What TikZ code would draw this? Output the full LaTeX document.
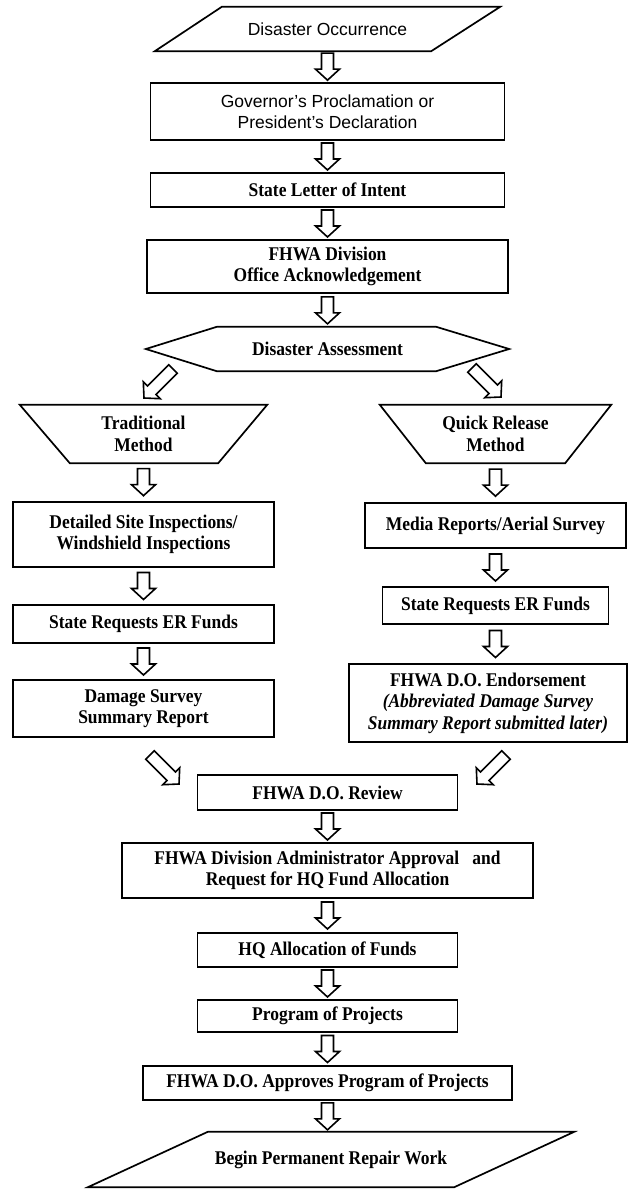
\documentclass[tikz,border=0pt]{standalone}
\usepackage{fontspec}
\setmainfont{Liberation Serif}[FakeStretch = 0.9]
\newfontfamily\arialfont{Liberation Sans}
\usepackage{tikz}
\usetikzlibrary{calc}

\newcommand{\flowsize}{\fontsize{19.4pt}{21.5pt}\selectfont}
\newcommand{\sansflowsize}{\fontsize{17.5pt}{21.5pt}\selectfont}

\tikzset{
	box/.style = {draw, line width = 1.7pt, align = center, inner sep = 0pt, font = \bfseries\flowsize},
	shapetext/.style = {align = center, inner sep = 0pt, font = \bfseries\flowsize},
	outline/.style = {line width = 1.7pt, line join = miter},
	blockarrow/.style = {draw, line width = 1.6pt, fill = white, line join = miter,
		to path = {
			($(\tikztostart)!0.5!(\tikztotarget)!-#1!(\tikztotarget)$) coordinate (bas)
			($(\tikztostart)!0.5!(\tikztotarget)!#1!(\tikztotarget)$) coordinate (tip)
			($(bas)!6pt!90:(tip)$) -- ($(tip)!12.53pt!-28.6:(bas)$) -- ($(tip)!16.28pt!-47.5:(bas)$) -- (tip)
			-- ($(tip)!16.28pt!47.5:(bas)$) -- ($(tip)!12.53pt!28.6:(bas)$) -- ($(bas)!6pt!-90:(tip)$) -- cycle
		}},
	blockarrow/.default = 13.5pt
}

\begin{document}
\begin{tikzpicture}[x = 1pt, y = -1pt]
	\useasboundingbox (0,0) rectangle (629,1189);

	% main column, top
	\node[shapetext, font = \arialfont\sansflowsize, minimum width = 345pt, minimum height = 44pt] (occur) at (327.5,29) {Disaster Occurrence};
	\node[box, font = \arialfont\sansflowsize, minimum width = 354pt, minimum height = 57pt] (gov) at (327.5,111.5) {Governor’s Proclamation or\\President’s Declaration};
	\node[box, minimum width = 354pt, minimum height = 34pt] (letter) at (327.5,190) {State Letter of Intent};
	\node[box, minimum width = 361pt, minimum height = 53pt] (division) at (327.5,266.5) {FHWA Division\\Office Acknowledgement};
	\node[shapetext, minimum width = 363pt, minimum height = 44pt] (assess) at (327.5,349) {Disaster Assessment};

	% two methods
	\node[shapetext, minimum width = 247pt, minimum height = 58pt] (trad) at (143.5,434) {Traditional\\Method};
	\node[box, minimum width = 261pt, minimum height = 65pt] (inspect) at (143.5,534.5) {Detailed Site Inspections/\\Windshield Inspections};
	\node[box, minimum width = 261pt, minimum height = 38pt] (reqleft) at (143.5,624) {State Requests ER Funds};
	\node[box, minimum width = 261pt, minimum height = 57pt] (survey) at (143.5,708.5) {Damage Survey\\Summary Report};

	\node[shapetext, minimum width = 231pt, minimum height = 58pt] (quick) at (495.5,434) {Quick Release\\Method};
	\node[box, minimum width = 261pt, minimum height = 45pt] (media) at (495.5,525.5) {Media Reports/Aerial Survey};
	\node[box, minimum width = 226pt, minimum height = 37pt] (reqright) at (495.5,605.5) {State Requests ER Funds};
	\node[box, minimum width = 278pt, minimum height = 78pt] (endorse) at (488,703) {FHWA D.O. Endorsement\\\textit{(Abbreviated Damage Survey}\\\textit{Summary Report submitted later)}};

	% main column, bottom
	\node[box, minimum width = 260pt, minimum height = 35pt] (review) at (327.5,792.5) {FHWA D.O. Review};
	\node[box, minimum width = 411pt, minimum height = 55pt] (admin) at (327.5,870.5) {FHWA Division Administrator Approval\ \ \ and\\Request for HQ Fund Allocation};
	\node[box, minimum width = 260pt, minimum height = 34pt] (hq) at (327.5,950) {HQ Allocation of Funds};
	\node[box, minimum width = 260pt, minimum height = 32pt] (program) at (327.5,1016) {Program of Projects};
	\node[box, minimum width = 369pt, minimum height = 34pt] (approve) at (327.5,1083) {FHWA D.O. Approves Program of Projects};
	\node[shapetext, minimum width = 486pt, minimum height = 55pt] (repair) at (331,1159.5) {Begin Permanent Repair Work};

	\begin{scope}[outline]
		\draw ($(occur.north west)+(67,0)$) -- (occur.north east) -- ($(occur.south east)+(-69,0)$) -- (occur.south west) -- cycle;
		\draw (assess.west) -- ($(assess.north west)+(71,0)$) -- ($(assess.north east)+(-73,0)$) -- (assess.east)
			-- ($(assess.south east)+(-73,0)$) -- ($(assess.south west)+(71,0)$) -- cycle;
		\draw (trad.north west) -- (trad.north east) -- ($(trad.south east)+(-49,0)$) -- ($(trad.south west)+(50,0)$) -- cycle;
		\draw (quick.north west) -- (quick.north east) -- ($(quick.south east)+(-46,0)$) -- ($(quick.south west)+(46,0)$) -- cycle;
		\draw ($(repair.north west)+(120,0)$) -- (repair.north east) -- ($(repair.south east)+(-120,0)$) -- (repair.south west) -- cycle;
	\end{scope}

	\foreach \a/\b in {occur/gov, gov/letter, letter/division, division/assess,
		trad/inspect, inspect/reqleft, reqleft/survey,
		quick/media, media/reqright,
		review/admin, admin/hq, hq/program, program/approve}
	{
		\draw[blockarrow] (\a.south) to (\b.north);
	}
	\draw[blockarrow] (reqright.south) to (reqright.south |- endorse.north);
	\draw[blockarrow] (approve.south) to (approve.south |- repair.north);

	% split and merge
	\coordinate (toTradA) at (173,369);
	\coordinate (toTradB) at (144,398);
	\coordinate (toQuickA) at (472,368);
	\coordinate (toQuickB) at (501,397);
	\coordinate (fromSurveyA) at (150,755);
	\coordinate (fromSurveyB) at (179,784);
	\coordinate (fromEndorseA) at (506,755);
	\coordinate (fromEndorseB) at (477,784);

	\draw[blockarrow = 20.5pt] (toTradA) to (toTradB);
	\draw[blockarrow = 20.5pt] (toQuickA) to (toQuickB);
	\draw[blockarrow = 20.5pt] (fromSurveyA) to (fromSurveyB);
	\draw[blockarrow = 20.5pt] (fromEndorseA) to (fromEndorseB);
\end{tikzpicture}
\end{document}
